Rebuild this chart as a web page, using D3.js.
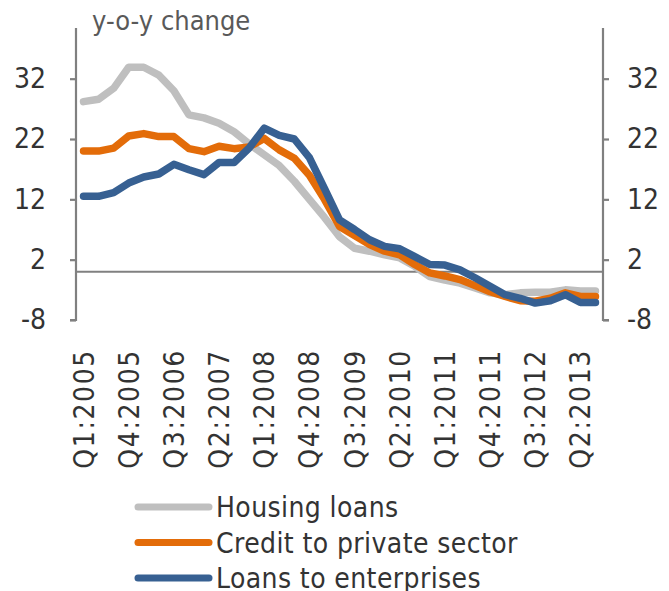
<!DOCTYPE html>
<html>
<head>
<meta charset="utf-8">
<script src="https://cdn.jsdelivr.net/npm/d3@7"></script>
<style>
  body { margin: 0; background: #fff; }
  svg text { font-family: "DejaVu Sans Condensed", "DejaVu Sans", sans-serif; font-stretch: condensed; fill: #333; }
</style>
</head>
<body>
<div id="chart"></div>
<script>
var svgWidth = 669;
var svgHeight = 591;

// quarters Q1:2005 .. Q3:2013
var quarters = [];
for (var yr = 2005; yr <= 2013; yr++) {
    for (var q = 1; q <= 4; q++) {
        if (yr === 2013 && q > 3) break;
        quarters.push('Q' + q + ':' + yr);
    }
}

// y-o-y change
var housingLoans = [28.2, 28.6, 30.4, 33.9, 33.9, 32.6, 30.0, 26.0, 25.5, 24.6,
    23.2, 21.2, 19.4, 17.6, 15.0, 12.0, 9.0, 5.8, 3.9, 3.4,
    2.8, 2.3, 0.9, -0.8, -1.4, -1.9, -2.7, -3.5, -3.8, -3.5,
    -3.4, -3.4, -3.0, -3.2, -3.2];
var creditPrivate = [20.0, 20.0, 20.5, 22.5, 22.9, 22.4, 22.4, 20.4, 19.9, 20.8,
    20.4, 20.7, 22.1, 20.2, 18.8, 16.0, 12.0, 7.5, 6.0, 4.5,
    3.4, 2.8, 1.2, -0.2, -0.7, -1.3, -2.3, -3.3, -4.1, -4.8,
    -4.9, -4.4, -3.5, -4.1, -4.1];
var loansEnterprises = [12.5, 12.5, 13.1, 14.7, 15.7, 16.2, 17.8, 16.9, 16.1, 18.1,
    18.1, 20.5, 23.8, 22.6, 22.0, 18.9, 13.8, 8.6, 7.0, 5.3,
    4.2, 3.8, 2.5, 1.2, 1.1, 0.3, -1.0, -2.4, -3.8, -4.4,
    -5.2, -4.8, -3.8, -5.1, -5.1];

var yTicks = [-8, 2, 12, 22, 32];
var seriesNames = ['Housing loans', 'Credit to private sector', 'Loans to enterprises'];
var seriesColors = ['#bfbfbf', '#e36c09', '#376092'];
var seriesData = [housingLoans, creditPrivate, loansEnterprises];

var plot = { left: 76, right: 603, top: 28, bottom: 320 };

var svg = d3.select('#chart')
    .append('svg')
    .attr('width', svgWidth)
    .attr('height', svgHeight);

var xScale = d3.scaleBand()
    .domain(quarters)
    .range([plot.left, plot.right]);

var yScale = d3.scaleLinear()
    .domain([-8, 40.4])
    .range([plot.bottom, plot.top]);

var xPos = function (d, i) { return xScale(quarters[i]) + xScale.bandwidth() / 2; };

// plain hyphen for negatives, like the original
var fmt = function (d) { return String(d); };

// left axis
var leftAxis = d3.axisLeft(yScale).tickValues(yTicks).tickFormat(fmt).tickSize(6).tickPadding(24);
var gLeft = svg.append('g')
    .attr('transform', `translate(${plot.left}, 0)`)
    .call(leftAxis);

// right axis
var rightAxis = d3.axisRight(yScale).tickValues(yTicks).tickFormat(fmt).tickSize(6).tickPadding(18);
var gRight = svg.append('g')
    .attr('transform', `translate(${plot.right}, 0)`)
    .call(rightAxis);

[gLeft, gRight].forEach(function (g) {
    g.select('.domain').attr('stroke', '#808080').attr('stroke-width', 2.2);
    g.selectAll('.tick line').attr('stroke', '#808080').attr('stroke-width', 2.2);
    g.selectAll('.tick text')
        .attr('font-size', 28)
        .attr('fill', '#333');
});
gLeft.select('.domain').attr('d', `M-6,${plot.bottom}H0V${plot.top}`);
gRight.select('.domain').attr('d', `M6,${plot.bottom}H0V${plot.top}`);

// zero line
svg.append('line')
    .attr('x1', plot.left)
    .attr('x2', plot.right)
    .attr('y1', yScale(0))
    .attr('y2', yScale(0))
    .attr('stroke', '#808080')
    .attr('stroke-width', 2.2);

// x labels every third quarter, rotated
var labelGroup = svg.append('g');
quarters.forEach(function (q, i) {
    if (i % 3 !== 0) return;
    var x = xPos(null, i);
    labelGroup.append('text')
        .attr('transform', `translate(${x + 10}, 349) rotate(-90)`)
        .attr('text-anchor', 'end')
        .attr('font-size', 28)
        .attr('letter-spacing', 1.6)
        .text(q);
});

// lines
var line = d3.line()
    .x(xPos)
    .y(function (d) { return yScale(d); });

seriesData.forEach(function (data, k) {
    svg.append('path')
        .datum(data)
        .attr('fill', 'none')
        .attr('stroke', seriesColors[k])
        .attr('stroke-width', 7.5)
        .attr('stroke-linecap', 'round')
        .attr('stroke-linejoin', 'round')
        .attr('d', line);
});

// title
svg.append('text')
    .attr('x', 92)
    .attr('y', 30)
    .attr('font-size', 27)
    .style('fill', '#595959')
    .text('y-o-y change');

// legend
var legend = svg.append('g');
seriesNames.forEach(function (name, k) {
    var y = 507 + k * 35.5;
    legend.append('line')
        .attr('x1', 138)
        .attr('x2', 209)
        .attr('y1', y)
        .attr('y2', y)
        .attr('stroke', seriesColors[k])
        .attr('stroke-width', 7)
        .attr('stroke-linecap', 'round');
    legend.append('text')
        .attr('x', 216)
        .attr('y', y + 10)
        .attr('font-size', 28)
        .attr('letter-spacing', 0.4)
        .text(name);
});
</script>
</body>
</html>
